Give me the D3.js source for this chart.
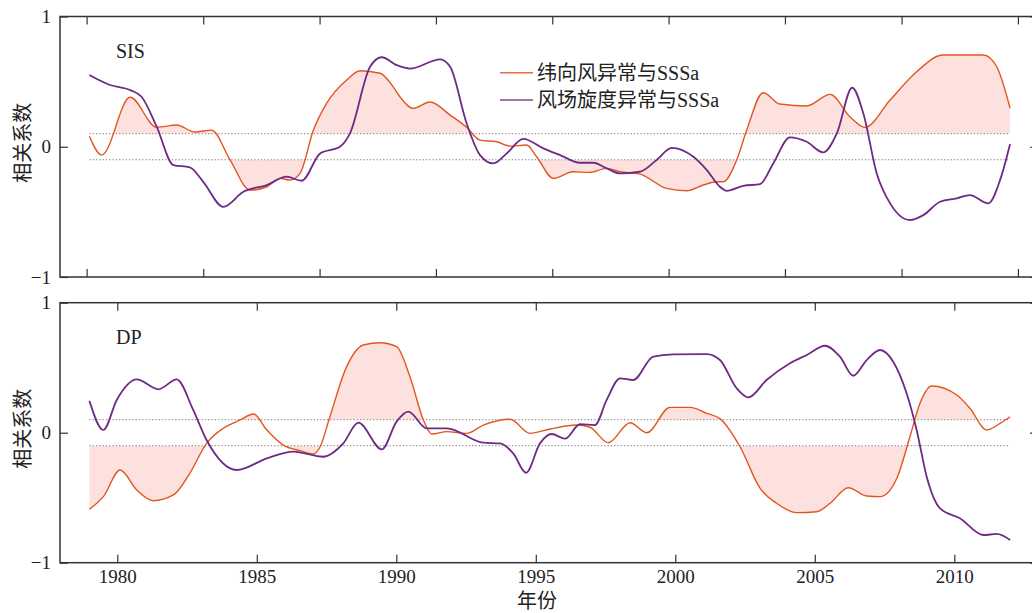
<!DOCTYPE html>
<html>
<head>
<meta charset="utf-8">
<script src="https://cdn.jsdelivr.net/npm/d3@7"></script>
<style>
  body { margin: 0; background: #fff; }
  text { font-family: "Liberation Serif", "Noto Sans CJK SC", serif; fill: #222; }
</style>
</head>
<body>
<svg id="chart" width="1032" height="613"></svg>
<script>
'use strict';

// legend names / panel names
var seriesNames = ["纬向风异常与SSSa", "风场旋度异常与SSSa"];
var panelNames = ["SIS", "DP"];

// tick values
var yearTicks = [1980, 1985, 1990, 1995, 2000, 2005, 2010];
var sisTickYears = [1978.9, 1983.08, 1987.25, 1991.42, 1995.59, 1999.76, 2003.93, 2008.11, 2012.28];
var yTicks = [-1, 0, 1];
var threshold = 0.1;

// SIS: zonal wind anomaly vs SSSa  [year, r]
var sisZonal = [
  [1979.0, 0.08], [1979.44, -0.064], [1980.46, 0.38], [1981.41, 0.15], [1982.13, 0.167],
  [1982.78, 0.113], [1983.38, 0.128], [1984.04, -0.10], [1984.76, -0.333], [1985.36, -0.307],
  [1985.83, -0.243], [1986.19, -0.256], [1986.55, -0.205], [1987.03, 0.128], [1987.5, 0.333],
  [1988.22, 0.512], [1988.7, 0.584], [1989.42, 0.564], [1989.89, 0.46], [1990.13, 0.384],
  [1990.61, 0.295], [1991.21, 0.343], [1991.93, 0.243], [1992.52, 0.149], [1993.0, 0.051],
  [1993.6, 0.038], [1994.08, 0.005], [1994.67, 0.013], [1995.03, -0.077], [1995.63, -0.243],
  [1996.34, -0.192], [1996.94, -0.197], [1997.54, -0.166], [1998.02, -0.192], [1998.73, -0.21],
  [1999.69, -0.32], [2000.41, -0.338], [2001.0, -0.294], [2001.48, -0.269], [2001.72, -0.269],
  [2002.2, -0.102], [2002.56, 0.128], [2003.15, 0.415], [2003.75, 0.328], [2004.71, 0.313],
  [2005.55, 0.402], [2006.26, 0.23], [2006.8, 0.149], [2007.7, 0.359], [2008.65, 0.576],
  [2009.6, 0.704], [2011.04, 0.704], [2011.52, 0.614], [2012.0, 0.295]
];

// SIS: wind stress curl anomaly vs SSSa
var sisCurl = [
  [1979.0, 0.551], [1979.74, 0.474], [1980.46, 0.435], [1980.87, 0.384], [1981.41, 0.154],
  [1982.01, -0.141], [1982.6, -0.158], [1983.08, -0.269], [1983.8, -0.461], [1984.52, -0.346],
  [1985.36, -0.294], [1986.07, -0.23], [1986.61, -0.261], [1987.27, -0.051], [1987.98, 0.0],
  [1988.34, 0.103], [1989.06, 0.614], [1989.48, 0.687], [1990.01, 0.627], [1990.49, 0.6],
  [1991.57, 0.671], [1991.93, 0.614], [1992.52, 0.18], [1993.0, -0.064], [1993.48, -0.128],
  [1993.96, -0.051], [1994.55, 0.061], [1995.27, -0.012], [1995.87, -0.064], [1996.58, -0.123],
  [1997.06, -0.123], [1997.54, -0.166], [1998.02, -0.205], [1998.73, -0.192], [1999.33, -0.102],
  [1999.87, -0.008], [2000.65, -0.077], [2001.13, -0.179], [2001.6, -0.307], [2001.84, -0.338],
  [2002.44, -0.3], [2003.04, -0.287], [2003.51, -0.128], [2004.11, 0.072], [2004.71, 0.038],
  [2005.3, -0.043], [2005.79, 0.103], [2006.34, 0.453], [2006.74, 0.256], [2007.22, -0.205],
  [2007.7, -0.435], [2008.41, -0.563], [2008.89, -0.525], [2009.49, -0.422], [2010.09, -0.396],
  [2010.56, -0.371], [2011.22, -0.435], [2011.64, -0.256], [2012.0, 0.021]
];

// DP: zonal wind anomaly vs SSSa
var dpZonal = [
  [1979.0, -0.589], [1979.5, -0.492], [1980.1, -0.287], [1980.7, -0.441], [1981.29, -0.523],
  [1982.01, -0.479], [1982.6, -0.312], [1983.2, -0.082], [1983.8, 0.034], [1984.4, 0.098],
  [1984.88, 0.144], [1985.36, 0.021], [1985.95, -0.095], [1986.55, -0.138], [1987.03, -0.164],
  [1987.27, -0.108], [1987.62, 0.123], [1988.22, 0.508], [1988.82, 0.675], [1989.42, 0.692],
  [1990.01, 0.662], [1990.49, 0.431], [1990.97, 0.098], [1991.27, -0.01], [1991.81, 0.008],
  [1992.52, -0.005], [1993.12, 0.059], [1994.08, 0.103], [1994.79, -0.005], [1995.51, 0.028],
  [1996.47, 0.059], [1996.94, 0.042], [1997.6, -0.077], [1998.38, 0.077], [1998.98, 0.0],
  [1999.81, 0.195], [2000.53, 0.195], [2001.13, 0.149], [2001.6, 0.108], [2002.32, -0.108],
  [2003.04, -0.428], [2003.63, -0.543], [2004.35, -0.615], [2005.07, -0.608], [2005.55, -0.543],
  [2006.2, -0.423], [2006.86, -0.487], [2007.34, -0.492], [2007.94, -0.351], [2008.41, -0.031],
  [2008.77, 0.226], [2009.19, 0.359], [2010.09, 0.29], [2010.56, 0.188], [2011.16, 0.021],
  [2011.64, 0.072], [2012.0, 0.123]
];

// DP: wind stress curl anomaly vs SSSa
var dpCurl = [
  [1979.0, 0.246], [1979.5, 0.021], [1979.98, 0.252], [1980.7, 0.41], [1981.47, 0.334],
  [1982.13, 0.41], [1982.72, 0.175], [1983.2, -0.056], [1984.28, -0.287], [1985.36, -0.197],
  [1986.31, -0.146], [1987.38, -0.185], [1988.1, -0.082], [1988.64, 0.077], [1989.48, -0.128],
  [1990.01, 0.085], [1990.43, 0.162], [1991.09, 0.034], [1991.81, 0.034], [1993.12, -0.077],
  [1993.72, -0.082], [1994.19, -0.159], [1994.65, -0.308], [1995.15, -0.082], [1995.57, -0.01],
  [1996.05, -0.046], [1996.58, 0.065], [1997.12, 0.059], [1997.54, 0.252], [1998.02, 0.418],
  [1998.49, 0.405], [1999.21, 0.585], [1999.93, 0.603], [2001.13, 0.605], [2001.6, 0.559],
  [2002.2, 0.342], [2002.62, 0.272], [2003.27, 0.405], [2004.11, 0.534], [2004.71, 0.598],
  [2005.37, 0.669], [2005.9, 0.585], [2006.38, 0.438], [2006.86, 0.559], [2007.34, 0.636],
  [2007.81, 0.546], [2008.29, 0.303], [2008.65, 0.021], [2009.01, -0.338], [2009.49, -0.582],
  [2010.2, -0.658], [2011.04, -0.787], [2011.52, -0.779], [2012.0, -0.825]
];

var colors = { zonal: "#e2561f", curl: "#6e2b86", fill: "#fde1df", axis: "#333" };

var frame = { left: 60, right: 1038 };
var panels = [
  { name: panelNames[0], zonal: sisZonal, curl: sisCurl, top: 16.5, bottom: 277, xTicks: sisTickYears, labels: false, legend: true },
  { name: panelNames[1], zonal: dpZonal, curl: dpCurl, top: 302.7, bottom: 562.7, xTicks: yearTicks, labels: true, legend: false }
];

var svg = d3.select("#chart");
svg.append("rect").attr("width", 1032).attr("height", 613).attr("fill", "#fff");

var x = d3.scaleLinear().domain([1979, 2012]).range([89.4, 1010.1]);
var curve = d3.curveMonotoneX;

panels.forEach(function(p, i) {
  var y = d3.scaleLinear().domain([-1, 1]).range([p.bottom, p.top]);
  var g = svg.append("g");
  var w = frame.right - frame.left;

  // clip regions for shading beyond +/- threshold
  var defs = svg.append("defs");
  defs.append("clipPath").attr("id", "above" + i)
    .append("rect").attr("x", frame.left).attr("y", p.top)
    .attr("width", w).attr("height", y(threshold) - p.top);
  defs.append("clipPath").attr("id", "below" + i)
    .append("rect").attr("x", frame.left).attr("y", y(-threshold))
    .attr("width", w).attr("height", p.bottom - y(-threshold));

  var areaUp = d3.area().curve(curve)
    .x(function(d) { return x(d[0]); })
    .y0(y(threshold))
    .y1(function(d) { return y(d[1]); });
  var areaDown = d3.area().curve(curve)
    .x(function(d) { return x(d[0]); })
    .y0(y(-threshold))
    .y1(function(d) { return y(d[1]); });

  g.append("path").datum(p.zonal).attr("d", areaUp)
    .attr("fill", colors.fill).attr("clip-path", "url(#above" + i + ")");
  g.append("path").datum(p.zonal).attr("d", areaDown)
    .attr("fill", colors.fill).attr("clip-path", "url(#below" + i + ")");

  // dotted threshold lines
  [threshold, -threshold].forEach(function(t) {
    g.append("line")
      .attr("x1", x(1979)).attr("x2", x(2012))
      .attr("y1", y(t)).attr("y2", y(t))
      .attr("stroke", "#777").attr("stroke-width", 1)
      .attr("stroke-dasharray", "1.2,2.1");
  });

  var line = d3.line().curve(curve)
    .x(function(d) { return x(d[0]); })
    .y(function(d) { return y(d[1]); });

  g.append("path").datum(p.zonal).attr("d", line)
    .attr("fill", "none").attr("stroke", colors.zonal).attr("stroke-width", 1.4);
  g.append("path").datum(p.curl).attr("d", line)
    .attr("fill", "none").attr("stroke", colors.curl).attr("stroke-width", 1.8);

  // axes, ticks pointing inward
  var yAxis = d3.axisLeft(y).tickValues(yTicks).tickSize(-8).tickSizeOuter(0).tickPadding(9)
    .tickFormat(d3.format("d"));
  var yAxisR = d3.axisRight(y).tickValues(yTicks).tickSize(-8).tickSizeOuter(0).tickFormat("");
  var xAxisB = d3.axisBottom(x).tickValues(p.xTicks).tickSize(-8).tickSizeOuter(0).tickPadding(7);
  var xAxisT = d3.axisTop(x).tickValues(p.xTicks).tickSize(-8).tickSizeOuter(0).tickFormat("");
  if (!p.labels) xAxisB.tickFormat("");
  else xAxisB.tickFormat(d3.format("d"));

  var axes = [
    g.append("g").attr("transform", "translate(" + frame.left + ",0)").call(yAxis),
    g.append("g").attr("transform", "translate(" + frame.right + ",0)").call(yAxisR),
    g.append("g").attr("transform", "translate(0," + p.bottom + ")").call(xAxisB),
    g.append("g").attr("transform", "translate(0," + p.top + ")").call(xAxisT)
  ];
  axes.forEach(function(a) {
    a.select(".domain").remove();
    a.selectAll(".tick line").attr("stroke", colors.axis).attr("stroke-width", 1.2);
    a.selectAll(".tick text")
      .attr("font-size", 19)
      .attr("font-family", "Liberation Serif, serif")
      .attr("fill", "#222");
  });

  // frame
  g.append("rect")
    .attr("x", frame.left).attr("y", p.top)
    .attr("width", w).attr("height", p.bottom - p.top)
    .attr("fill", "none").attr("stroke", colors.axis).attr("stroke-width", 1.5);

  // panel label
  g.append("text").attr("x", 116).attr("y", p.top + 41)
    .attr("font-size", 20).text(p.name);

  // y axis title
  g.append("text")
    .attr("transform", "translate(30," + ((p.top + p.bottom) / 2 - 4) + ") rotate(-90)")
    .attr("text-anchor", "middle").attr("font-size", 20)
    .text("相关系数");

  if (p.legend) {
    var lg = g.append("g");
    var items = [
      { name: seriesNames[0], color: colors.zonal },
      { name: seriesNames[1], color: colors.curl }
    ];
    items.forEach(function(it, k) {
      var cy = 72.7 + k * 27.3;
      lg.append("line").attr("x1", 500).attr("x2", 533).attr("y1", cy).attr("y2", cy)
        .attr("stroke", it.color).attr("stroke-width", 1.5).attr("opacity", 0.85);
      lg.append("text").attr("x", 537).attr("y", cy).attr("dy", "0.36em")
        .attr("font-size", 20).text(it.name);
    });
  }
});

// x axis title
svg.append("text").attr("x", 537).attr("y", 608)
  .attr("text-anchor", "middle").attr("font-size", 20)
  .text("年份");
</script>
</body>
</html>
